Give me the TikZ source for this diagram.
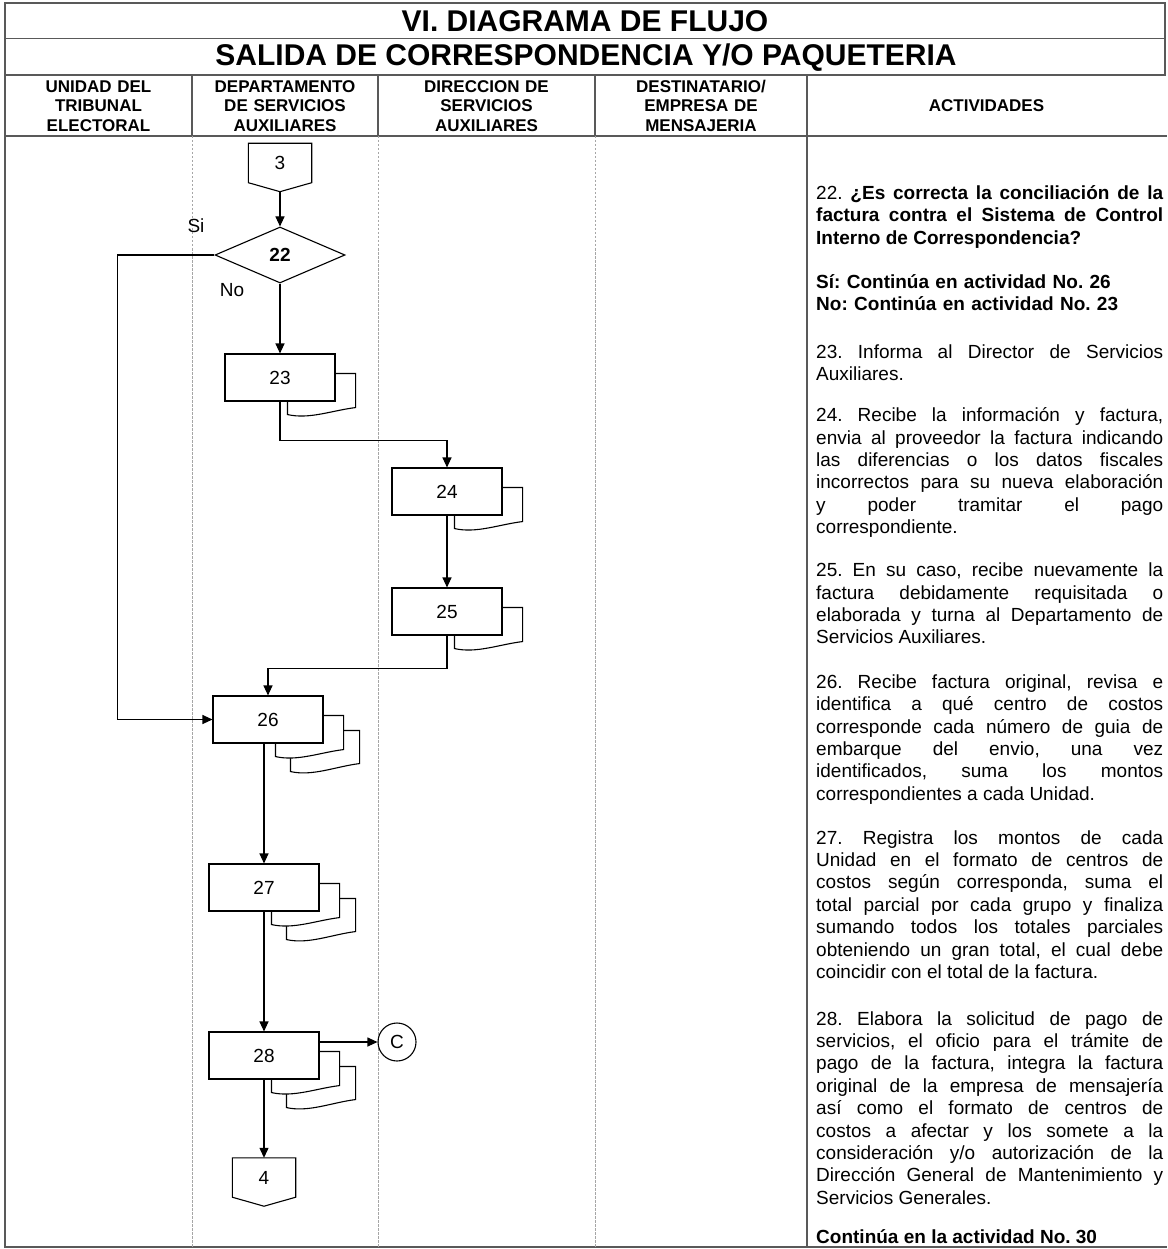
\documentclass[tikz,border=0pt]{standalone}
\usepackage{fontspec}
\setmainfont{Liberation Sans}
\usetikzlibrary{shapes.geometric,arrows.meta,calc,backgrounds}
\frenchspacing
\tolerance=9999
\hbadness=10000

\tikzset{
  marco/.style={draw=black!65, line width=1.6pt},
  carril/.style={draw=black!35, line width=0.9pt, dash pattern=on 2.5pt off 1.5pt},
  titulo/.style={anchor=base, inner sep=0pt, font=\fontsize{30}{34}\selectfont\bfseries},
  encabezado/.style={anchor=base, inner sep=0pt, align=center, font=\fontsize{17}{19.2}\selectfont\bfseries},
  caja/.style={draw, fill=white, line width=1.1pt, minimum width=110pt, minimum height=47pt, inner sep=0pt, font=\fontsize{19}{22}\selectfont},
  hoja/.style={draw, fill=white, line width=1.1pt},
  rombo/.style={diamond, draw, fill=white, line width=1.1pt, minimum width=130pt, minimum height=56pt, inner sep=0pt, font=\fontsize{19}{22}\selectfont\bfseries},
  conector/.style={minimum width=63pt, minimum height=39pt, inner sep=0pt, font=\fontsize{19}{22}\selectfont},
  circulo/.style={circle, draw, line width=1.1pt, minimum size=38pt, inner sep=0pt, font=\fontsize{19}{22}\selectfont},
  etiqueta/.style={inner sep=0pt, font=\fontsize{19}{22}\selectfont},
  flecha/.style={line width=1.1pt, -{Triangle[length=10pt,width=9pt]}},
  linea/.style={line width=1.1pt},
  actividad/.style={anchor=base west, text width=347pt, align=justify, inner sep=0pt, font=\fontsize{19}{22.4}\selectfont},
}

\begin{document}
\begin{tikzpicture}[x=1pt,y=-1pt]
\useasboundingbox (0,0) rectangle (1167,1249);

% Marco y encabezados
\draw[marco] (5,3) rectangle (1165,75);
\draw[marco] (5,38.5) -- (1165,38.5);
\draw[marco] (5,75) -- (5,1247) -- (1167,1247);
\draw[marco] (5,136) -- (1167,136);
\foreach \x in {192,378,595} {
    \draw[marco] (\x,75) -- (\x,136);
    \draw[carril] (\x,136) -- (\x,1247);
}
\draw[marco] (807,75) -- (807,1247);

\node[titulo] (t1) at (585,31.5) {VI. DIAGRAMA DE FLUJO};
\node[titulo] (t2) at (586,66) {SALIDA DE CORRESPONDENCIA Y/O PAQUETERIA};

\node[encabezado, text width=187pt] (h1) at (98.5,92.7) {UNIDAD DEL\\TRIBUNAL\\ELECTORAL};
\node[encabezado, text width=186pt] (h2) at (285,92.7) {DEPARTAMENTO\\DE SERVICIOS\\AUXILIARES};
\node[encabezado, text width=217pt] (h3) at (486.5,92.7) {DIRECCION DE\\SERVICIOS\\AUXILIARES};
\node[encabezado, text width=212pt] (h4) at (701,92.7) {DESTINATARIO/\\EMPRESA DE\\MENSAJERIA};
\node[encabezado] (h5) at (986.5,111.7) {ACTIVIDADES};

% Conectores de pagina
\node[conector] (c3) at (280,163) {3};
\node[conector] (c4) at (264,1177.5) {4};
\foreach \c in {c3,c4} {
    \coordinate (\c tip) at ($(\c.south)+(0,9)$);
    \draw[linea] (\c.north west) -- (\c.north east) -- (\c.south east)
        -- (\c tip) -- (\c.south west) -- cycle;
}

% Decision y actividades
\node[rombo] (d22) at (280,255) {22};
\node[etiqueta] (si) at (196,226) {Si};
\node[etiqueta] (no) at (232,290) {No};

\node[caja] (b23) at (280,377.5) {23};
\node[caja] (b24) at (447,491.5) {24};
\node[caja] (b25) at (447,611.5) {25};
\node[caja] (b26) at (268,719.5) {26};
\node[caja] (b27) at (264,887.5) {27};
\node[caja] (b28) at (264,1055.5) {28};
\node[circulo] (cc) at (397,1042) {C};

% Hojas detras de cada caja
\begin{scope}[on background layer]
\foreach \b in {b26,b27,b28} {
    \filldraw[hoja] ($(\b.south west)+(78,28)$) .. controls +(22,5) and +(-24,3) .. ($(\b.south east)+(36,20)$)
        -- ($(\b.north east)+(36,35)$) -- ($(\b.north west)+(78,35)$) -- cycle;
}
\foreach \b in {b23,b24,b25,b26,b27,b28} {
    \filldraw[hoja] ($(\b.south west)+(63,13)$) .. controls +(22,5) and +(-24,3) .. ($(\b.south east)+(20,6)$)
        -- ($(\b.north east)+(20,20)$) -- ($(\b.north west)+(63,20)$) -- cycle;
}
\end{scope}

% Flechas
\draw[flecha] (c3tip) -- (d22);
\draw[flecha] (d22.west) -- ++(-97,0) |- (b26.west);
\draw[flecha] (d22) -- (b23);
\draw[flecha] (b23.south) -- ++(0,39) -| (b24.north);
\draw[flecha] (b24) -- (b25);
\draw[flecha] (b25.south) -- ++(0,33) -| (b26.north);
\draw[flecha] (b27.north |- b26.south) -- (b27.north);
\draw[flecha] (b27) -- (b28);
\draw[flecha] (b28.east |- cc) -- (cc);
\draw[flecha] (b28) -- (c4);

% Texto de actividades
\node[actividad] (a22) at (816,199.3) {22. \textbf{¿Es correcta la conciliación de la\linebreak factura contra el Sistema de Control\linebreak Interno de Correspondencia?}};
\node[actividad, align=left, font=\fontsize{19}{22.4}\selectfont\bfseries] (a22r) at (816,288.3) {Sí: Continúa en actividad No. 26\\No: Continúa en actividad No. 23};
\node[actividad] (a23) at (816,358) {23. Informa al Director de Servicios\linebreak Auxiliares.};
\node[actividad] (a24) at (816,421.7) {24. Recibe la información y factura,\linebreak envia al proveedor la factura indicando\linebreak las diferencias o los datos fiscales\linebreak incorrectos para su nueva elaboración\linebreak y poder tramitar el pago\linebreak correspondiente.};
\node[actividad] (a25) at (816,576.7) {25. En su caso, recibe nuevamente la\linebreak factura debidamente requisitada o\linebreak elaborada y turna al Departamento de\linebreak Servicios Auxiliares.};
\node[actividad] (a26) at (816,688.3) {26. Recibe factura original, revisa e\linebreak identifica a qué centro de costos\linebreak corresponde cada número de guia de\linebreak embarque del envio, una vez\linebreak identificados, suma los montos\linebreak correspondientes a cada Unidad.};
\node[actividad] (a27) at (816,844) {27. Registra los montos de cada\linebreak Unidad en el formato de centros de\linebreak costos según corresponda, suma el\linebreak total parcial por cada grupo y finaliza\linebreak sumando todos los totales parciales\linebreak obteniendo un gran total, el cual debe\linebreak coincidir con el total de la factura.};
\node[actividad] (a28) at (816,1025) {28. Elabora la solicitud de pago de\linebreak servicios, el oficio para el trámite de\linebreak pago de la factura, integra la factura\linebreak original de la empresa de mensajería\linebreak así como el formato de centros de\linebreak costos a afectar y los somete a la\linebreak consideración y/o autorización de la\linebreak Dirección General de Mantenimiento y\linebreak Servicios Generales.};
\node[actividad, font=\fontsize{19}{22.4}\selectfont\bfseries] (a30) at (816,1243) {Continúa en la actividad No. 30};

\end{tikzpicture}
\end{document}
